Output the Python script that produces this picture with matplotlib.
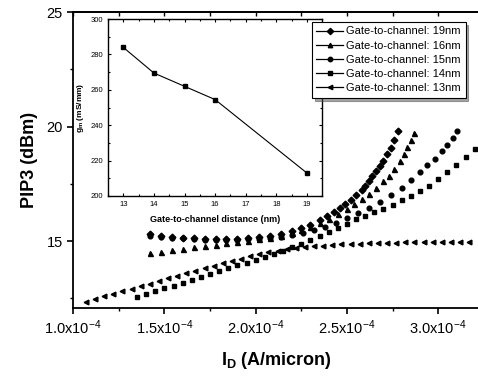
import numpy as np
import matplotlib
matplotlib.use("Agg")
import matplotlib.pyplot as plt
from matplotlib.lines import Line2D
from matplotlib.ticker import MultipleLocator, FixedLocator, FuncFormatter

plt.rcParams["font.family"] = ["Liberation Sans", "DejaVu Sans"]
plt.rcParams["mathtext.fontset"] = "custom"
plt.rcParams["mathtext.rm"] = "Liberation Sans"
plt.rcParams["mathtext.bf"] = "Liberation Sans:bold"
plt.rcParams["mathtext.it"] = "Liberation Sans:italic"
plt.rcParams["mathtext.default"] = "regular"

# --- data: drain current in units of 1e-4 A/micron, PIP3 in dBm ---
id_19 = [1.42, 1.48, 1.54, 1.60, 1.66, 1.72, 1.78, 1.84, 1.90, 1.96, 2.02, 2.08,
         2.14, 2.20, 2.25, 2.30, 2.35, 2.39, 2.43, 2.46, 2.49, 2.52, 2.55, 2.58,
         2.60, 2.62, 2.64, 2.66, 2.68, 2.70, 2.72, 2.74, 2.76, 2.78]
pip3_19 = [15.30, 15.24, 15.19, 15.15, 15.12, 15.10, 15.09, 15.09, 15.10, 15.12,
           15.16, 15.22, 15.30, 15.42, 15.55, 15.72, 15.92, 16.08, 16.26, 16.44,
           16.62, 16.80, 17.00, 17.22, 17.40, 17.60, 17.82, 18.05, 18.28, 18.50,
           18.78, 19.08, 19.40, 19.80]

id_16 = [1.42, 1.48, 1.54, 1.60, 1.66, 1.72, 1.78, 1.84, 1.90, 1.96, 2.02, 2.08,
         2.14, 2.20, 2.25, 2.30, 2.35, 2.40, 2.45, 2.50, 2.54, 2.58, 2.62, 2.66,
         2.70, 2.73, 2.76, 2.79, 2.81, 2.83, 2.85, 2.865]
pip3_16 = [14.48, 14.54, 14.60, 14.66, 14.72, 14.78, 14.84, 14.90, 14.96, 15.02,
           15.08, 15.15, 15.24, 15.35, 15.48, 15.63, 15.80, 15.98, 16.18, 16.40,
           16.60, 16.82, 17.06, 17.32, 17.60, 17.85, 18.14, 18.50, 18.80, 19.10,
           19.42, 19.72]

id_15 = [1.42, 1.48, 1.54, 1.60, 1.66, 1.72, 1.78, 1.84, 1.90, 1.96, 2.02, 2.08,
         2.14, 2.20, 2.26, 2.32, 2.38, 2.44, 2.50, 2.56, 2.62, 2.68, 2.74, 2.80,
         2.85, 2.90, 2.94, 2.98, 3.02, 3.05, 3.08, 3.105]
pip3_15 = [15.22, 15.18, 15.14, 15.11, 15.08, 15.06, 15.05, 15.05, 15.05, 15.07,
           15.09, 15.13, 15.18, 15.25, 15.35, 15.48, 15.62, 15.80, 16.00, 16.22,
           16.46, 16.72, 17.00, 17.32, 17.65, 18.00, 18.30, 18.60, 18.92, 19.20,
           19.50, 19.80]

id_14 = [1.35, 1.40, 1.45, 1.50, 1.55, 1.60, 1.65, 1.70, 1.75, 1.80, 1.85, 1.90,
         1.95, 2.00, 2.05, 2.10, 2.15, 2.20, 2.25, 2.30, 2.35, 2.40, 2.45, 2.50,
         2.55, 2.60, 2.65, 2.70, 2.75, 2.80, 2.85, 2.90, 2.95, 3.00, 3.05, 3.10,
         3.15, 3.20, 3.25]
pip3_14 = [12.55, 12.68, 12.80, 12.93, 13.05, 13.18, 13.30, 13.43, 13.55, 13.68,
           13.80, 13.93, 14.05, 14.18, 14.30, 14.43, 14.57, 14.72, 14.88, 15.05,
           15.22, 15.40, 15.58, 15.76, 15.94, 16.10, 16.25, 16.40, 16.58, 16.78,
           16.98, 17.20, 17.42, 17.70, 18.00, 18.34, 18.65, 19.02, 19.40]

id_13 = [1.07, 1.12, 1.17, 1.22, 1.27, 1.32, 1.37, 1.42, 1.47, 1.52, 1.57, 1.62,
         1.67, 1.72, 1.77, 1.82, 1.87, 1.92, 1.97, 2.02, 2.07, 2.12, 2.17, 2.22,
         2.27, 2.32, 2.37, 2.42, 2.47, 2.52, 2.57, 2.62, 2.67, 2.72, 2.77, 2.82,
         2.87, 2.92, 2.97, 3.02, 3.07, 3.12, 3.17]
pip3_13 = [12.35, 12.46, 12.58, 12.69, 12.80, 12.92, 13.03, 13.14, 13.25, 13.37,
           13.48, 13.59, 13.70, 13.81, 13.92, 14.03, 14.13, 14.23, 14.33, 14.42,
           14.50, 14.57, 14.63, 14.68, 14.73, 14.77, 14.80, 14.83, 14.85, 14.87,
           14.89, 14.90, 14.91, 14.92, 14.93, 14.94, 14.95, 14.95, 14.96, 14.96,
           14.97, 14.97, 14.97]

labels = ["Gate-to-channel: 19nm", "Gate-to-channel: 16nm", "Gate-to-channel: 15nm",
          "Gate-to-channel: 14nm", "Gate-to-channel: 13nm"]

# inset: transconductance vs gate-to-channel distance
gate_dist = [13, 14, 15, 16, 19]
gm = [284, 269.5, 262, 254.5, 213]

x_ticks = [1.0, 1.5, 2.0, 2.5, 3.0]

# --- figure ---
fig = plt.figure(figsize=(4.78, 3.78), dpi=100)
ax = fig.add_axes([0.153, 0.185, 0.85, 0.783])

series = [
    (id_19, pip3_19, "D", 3.4),
    (id_16, pip3_16, "^", 3.6),
    (id_15, pip3_15, "o", 3.4),
    (id_14, pip3_14, "s", 3.0),
    (id_13, pip3_13, "<", 3.4),
]
handles = []
for (xs, ys, mk, ms), lab in zip(series, labels):
    ax.plot(np.array(xs) * 1e-4, ys, linestyle="none", marker=mk, ms=ms,
            color="black", mec="black")
    handles.append(Line2D([], [], color="black", lw=0.9, marker=mk, ms=3.2, label=lab))

ax.set_xlim(1.0e-4, 3.226e-4)
ax.set_ylim(12.07, 25)
ax.spines["right"].set_visible(False)
for sp in ax.spines.values():
    sp.set_linewidth(1.3)

ax.xaxis.set_major_locator(FixedLocator([t * 1e-4 for t in x_ticks]))
ax.xaxis.set_minor_locator(MultipleLocator(0.25e-4))
ax.xaxis.set_major_formatter(FuncFormatter(lambda v, p: "%.1fx10$^{-4}$" % (v * 1e4)))
ax.yaxis.set_major_locator(MultipleLocator(5))
ax.yaxis.set_minor_locator(MultipleLocator(2.5))
ax.tick_params(which="major", direction="out", length=4, width=1.2, labelsize=10.5)
ax.tick_params(which="minor", direction="out", length=2.5, width=1.0)

top = ax.secondary_xaxis("top")
top.xaxis.set_major_locator(FixedLocator([t * 1e-4 for t in x_ticks]))
top.xaxis.set_minor_locator(MultipleLocator(0.25e-4))
top.tick_params(which="both", direction="in", labeltop=False, length=3, width=1.0)
top.spines["top"].set_linewidth(1.3)

ax.set_ylabel("PIP3 (dBm)", fontsize=13, fontweight="bold", labelpad=6)
ax.set_xlabel(r"I$_\mathbf{D}$ (A/micron)", fontsize=13, fontweight="bold")
ax.xaxis.set_label_coords(0.5, -0.14)

# --- inset ---
ins = fig.add_axes([0.226, 0.4815, 0.448, 0.468])
ins.plot(gate_dist, gm, color="black", lw=0.8, marker="s", ms=2.8)
ins.set_xlim(12.5, 19.5)
ins.set_ylim(200, 300)
ins.xaxis.set_major_locator(MultipleLocator(1))
ins.xaxis.set_minor_locator(MultipleLocator(0.5))
ins.yaxis.set_major_locator(MultipleLocator(20))
ins.yaxis.set_minor_locator(MultipleLocator(10))
ins.tick_params(which="both", direction="in", top=True, right=True, labelsize=5.5,
                length=2.5, width=0.8)
ins.tick_params(which="minor", length=1.5)
for sp in ins.spines.values():
    sp.set_linewidth(1.0)
ins.set_xlabel("Gate-to-channel distance (nm)", fontsize=6.5, fontweight="bold", labelpad=5)
ins.set_ylabel(r"g$_\mathbf{m}$ (mS/mm)", fontsize=6, fontweight="bold", labelpad=3)

leg = fig.legend(handles=handles, loc="upper left", bbox_to_anchor=(312 / 478, 1 - 22 / 378),
                 fontsize=8, frameon=True, fancybox=False, shadow=True,
                 handlelength=2.4, labelspacing=0.38, borderpad=0.4, handletextpad=0.3,
                 borderaxespad=0)
leg.get_frame().set_edgecolor("black")
leg.get_frame().set_linewidth(0.8)

fig.savefig("out.png", dpi=100)
